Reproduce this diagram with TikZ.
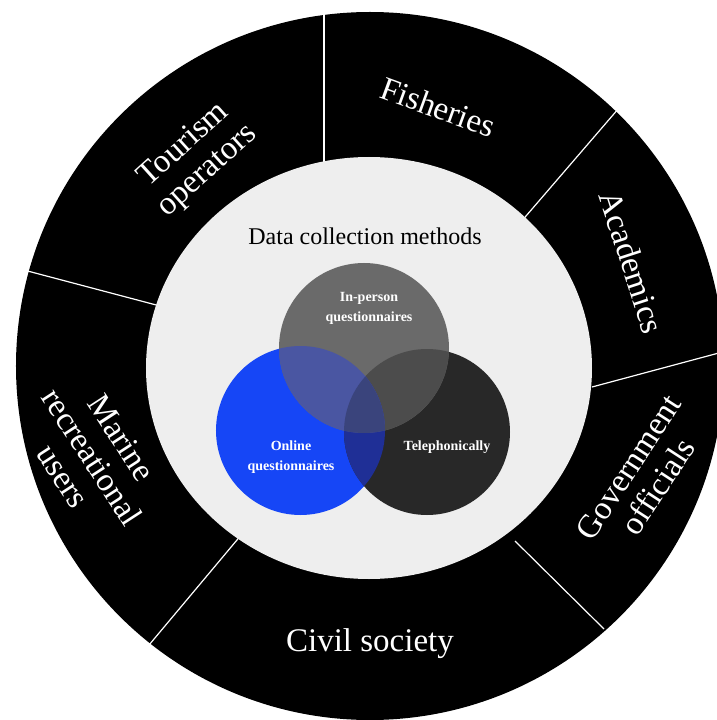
\documentclass[tikz,border=0pt]{standalone}
\usepackage{fontspec}
\setmainfont{Liberation Serif}
\definecolor{innerbg}{HTML}{EEEEEE}
\definecolor{personcol}{HTML}{6A6A6A}
\definecolor{onlinecol}{HTML}{1646F6}
\definecolor{phonecol}{HTML}{282828}
\definecolor{onlinephone}{HTML}{1F2F96}
\definecolor{onlineperson}{HTML}{4A56A2}
\definecolor{phoneperson}{HTML}{4C4C4C}
\definecolor{allthree}{HTML}{3A447C}
\tikzstyle{ringlabel} = [text=white, align=center, font=\fontsize{33}{35}\selectfont]
\tikzstyle{venntext} = [text=white, align=center, font=\fontsize{14}{20}\selectfont\bfseries]
\tikzstyle{titletext} = [text=black, font=\fontsize{24}{26}\selectfont]
\tikzstyle{divider} = [white, line width=1.2pt]

\begin{document}
\begin{tikzpicture}[x=1pt, y=1pt]
\useasboundingbox (-370,-354) rectangle (346,366);
\fill[white] (-370,-354) rectangle (346,366);
\fill[black] (0,0) circle (354);

\coordinate (p1) at (-46,358);
\coordinate (p2) at (-46,200);
\coordinate (p3) at (249,258);
\coordinate (p4) at (150,143);
\coordinate (p5) at (360,16);
\coordinate (p6) at (222,-21);
\coordinate (p7) at (145,-175);
\coordinate (p8) at (234,-263);
\coordinate (p9) at (-128,-168);
\coordinate (p10) at (-226,-285);
\coordinate (p11) at (-350,97);
\coordinate (p12) at (-210,60);

\draw [divider](p1) -- (p2);
\draw [divider](p3) -- (p4);
\draw [divider](p5) -- (p6);
\draw [divider](p7) -- (p8);
\draw [divider](p9) -- (p10);
\draw [divider](p11) -- (p12);

\fill[innerbg] (-1,-2) ellipse (223 and 211);

\coordinate (cperson) at (-6,18);
\coordinate (conline) at (-69.5,-64.5);
\coordinate (cphone) at (57,-66);

\fill[onlinecol] (conline) circle (84.5);
\fill[phonecol] (cphone) circle (83);
\fill[personcol] (cperson) circle (85);
\begin{scope}
\clip (cphone) circle (83);
\fill[phoneperson] (cperson) circle (85);
\end{scope}
\begin{scope}
\clip (conline) circle (84.5);
\fill[onlinephone] (cphone) circle (83);
\fill[onlineperson] (cperson) circle (85);
\clip (cphone) circle (83);
\fill[allthree] (cperson) circle (85);
\end{scope}

\node (title) [titletext] at (-5,130) {Data collection methods};
\node (inperson) [venntext] at (-1,58) {In-person\\questionnaires};
\node (online) [venntext] at (-79,-91) {Online\\questionnaires};
\node (phone) [venntext] at (77,-81) {Telephonically};

\node (fish) [ringlabel, rotate=-20] at (68,259) {Fisheries};
\node (acad) [ringlabel, rotate=-72] at (262,104) {Academics};
\node (gov) [ringlabel, rotate=57] at (273,-111) {Government\\officials};
\node (civil) [ringlabel] at (0,-278) {Civil society};
\node (marine) [ringlabel, rotate=-57] at (-278,-91) {Marine\\recreational\\users};
\node (tour) [ringlabel, rotate=42] at (-174,208) {Tourism\\operators};
\end{tikzpicture}
\end{document}
